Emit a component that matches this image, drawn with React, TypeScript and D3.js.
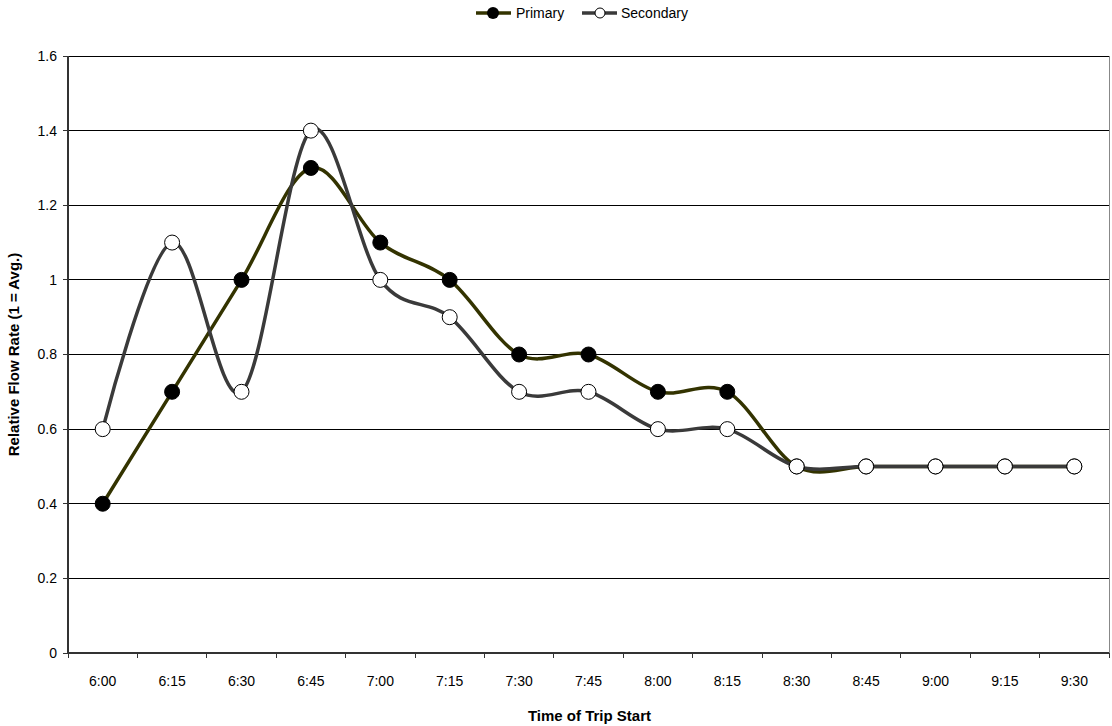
import React from "react";
import * as d3 from "d3";

const categories = ["6:00", "6:15", "6:30", "6:45", "7:00", "7:15", "7:30", "7:45", "8:00", "8:15", "8:30", "8:45", "9:00", "9:15", "9:30"];
const primary = [0.4, 0.7, 1.0, 1.3, 1.1, 1.0, 0.8, 0.8, 0.7, 0.7, 0.5, 0.5, 0.5, 0.5, 0.5];
const secondary = [0.6, 1.1, 0.7, 1.4, 1.0, 0.9, 0.7, 0.7, 0.6, 0.6, 0.5, 0.5, 0.5, 0.5, 0.5];
const yTicks = [0, 0.2, 0.4, 0.6, 0.8, 1, 1.2, 1.4, 1.6];

const W = 1112, H = 726;
const plot = { left: 68, right: 1109, top: 56, bottom: 653 };
const FONT = "'Liberation Sans', Arial, sans-serif";
const PRIMARY_COLOR = "#333300";
const SECONDARY_COLOR = "#3a3a3a";

export default function App() {
  const x = d3.scaleBand<string>().domain(categories).range([plot.left, plot.right]);
  const y = d3.scaleLinear().domain([0, 1.6]).range([plot.bottom, plot.top]);
  const cx = (c: string) => (x(c) ?? 0) + x.bandwidth() / 2;
  const line = d3
    .line<number>()
    .x((_, i) => cx(categories[i]))
    .y((v) => y(v))
    .curve(d3.curveCatmullRom.alpha(0));
  const boundaries = categories.map((c) => x(c) ?? 0).concat([plot.right]);

  return (
    <svg width={W} height={H} style={{ position: "absolute", left: 0, top: 0 }} fontFamily={FONT}>
      <rect x={0} y={0} width={W} height={H} fill="#fff" />
      {/* gridlines */}
      {yTicks.filter((t) => t > 0).map((t) => (
        <line key={t} x1={plot.left} x2={plot.right} y1={y(t)} y2={y(t)} stroke="#000" strokeWidth={1} shapeRendering="crispEdges" />
      ))}
      {/* right border */}
      <line x1={plot.right} x2={plot.right} y1={plot.top} y2={plot.bottom} stroke="#888" strokeWidth={1} shapeRendering="crispEdges" />
      {/* y axis */}
      <line x1={plot.left} x2={plot.left} y1={plot.top} y2={plot.bottom} stroke="#333" strokeWidth={2} shapeRendering="crispEdges" />
      {yTicks.map((t) => (
        <g key={t}>
          <line x1={plot.left - 5} x2={plot.left} y1={y(t)} y2={y(t)} stroke="#333" strokeWidth={1} shapeRendering="crispEdges" />
          <text x={plot.left - 11} y={y(t)} dy="0.35em" textAnchor="end" fontSize={14} fill="#000">{t}</text>
        </g>
      ))}
      {/* x axis */}
      <line x1={plot.left} x2={plot.right} y1={plot.bottom} y2={plot.bottom} stroke="#333" strokeWidth={2} shapeRendering="crispEdges" />
      {boundaries.map((b, i) => (
        <line key={i} x1={b} x2={b} y1={plot.bottom} y2={plot.bottom + 5} stroke="#333" strokeWidth={1} shapeRendering="crispEdges" />
      ))}
      {categories.map((c) => (
        <text key={c} x={cx(c)} y={plot.bottom + 33} textAnchor="middle" fontSize={14} fill="#000">{c}</text>
      ))}
      {/* axis titles */}
      <text x={(plot.left + plot.right) / 2 + 1} y={721} textAnchor="middle" fontSize={15} fontWeight="bold">Time of Trip Start</text>
      <text transform={`translate(19,${(plot.top + plot.bottom) / 2}) rotate(-90)`} textAnchor="middle" fontSize={15} fontWeight="bold">Relative Flow Rate (1 = Avg.)</text>
      {/* series lines */}
      <path d={line(primary) ?? ""} fill="none" stroke={PRIMARY_COLOR} strokeWidth={3.5} />
      <path d={line(secondary) ?? ""} fill="none" stroke={SECONDARY_COLOR} strokeWidth={3.5} />
      {/* markers */}
      {primary.map((v, i) => (
        <circle key={"p" + i} cx={cx(categories[i])} cy={y(v)} r={7.5} fill="#000" stroke="#000" strokeWidth={1} />
      ))}
      {secondary.map((v, i) => (
        <circle key={"s" + i} cx={cx(categories[i])} cy={y(v)} r={7.5} fill="#fff" stroke="#000" strokeWidth={1} />
      ))}
      {/* legend */}
      <g transform="translate(476,13)">
        <line x1={0} x2={35} y1={0} y2={0} stroke={PRIMARY_COLOR} strokeWidth={3.5} />
        <circle cx={17} cy={0} r={6} fill="#000" />
        <text x={40} y={0} dy="0.35em" fontSize={14}>Primary</text>
        <line x1={106} x2={141} y1={0} y2={0} stroke={SECONDARY_COLOR} strokeWidth={3.5} />
        <circle cx={124} cy={0} r={5} fill="#fff" stroke="#000" strokeWidth={1} />
        <text x={145} y={0} dy="0.35em" fontSize={14}>Secondary</text>
      </g>
    </svg>
  );
}
